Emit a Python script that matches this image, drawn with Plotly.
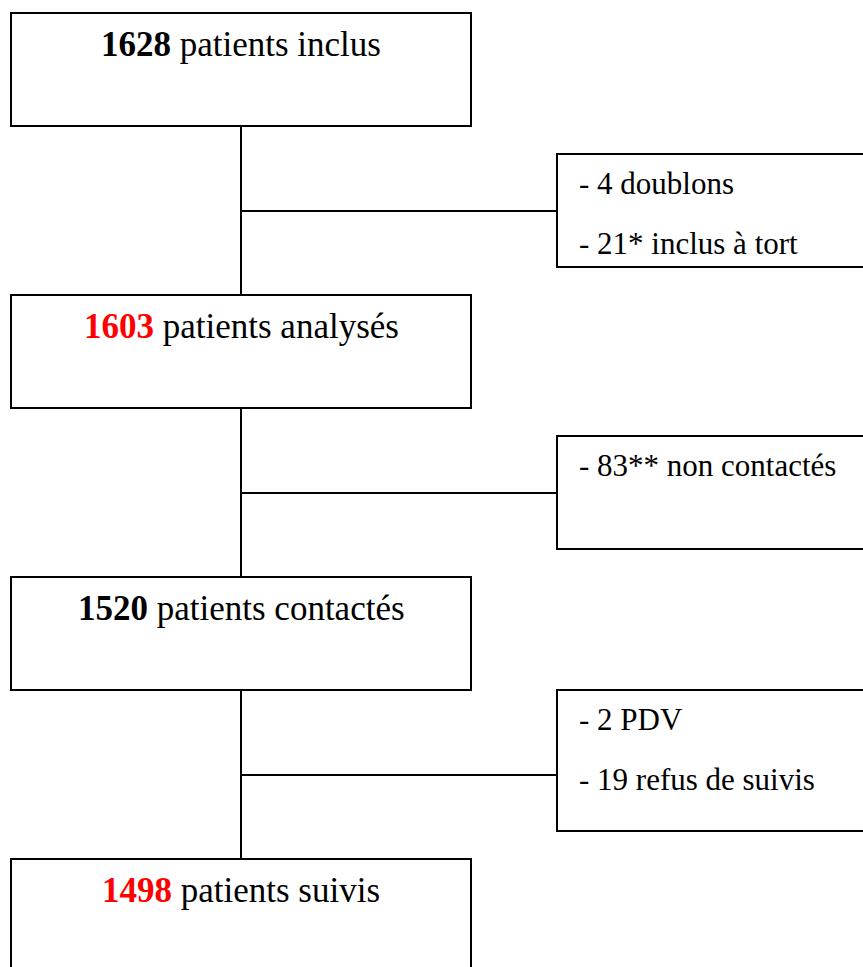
import plotly.graph_objects as go

# ---- data ----
main_counts = ["1628", "1603", "1520", "1498"]
main_labels = ["patients inclus", "patients analysés", "patients contactés", "patients suivis"]
main_count_colors = ["#000000", "#FF0000", "#000000", "#FF0000"]
exclusions = [
    ["- 4 doublons", "- 21* inclus à tort"],
    ["- 83** non contactés"],
    ["- 2 PDV", "- 19 refus de suivis"],
]

# ---- layout constants (pixel geometry) ----
W, H = 863, 967
MX0, MX1 = 11, 471
main_tops = [13, 295, 577, 859]
MAIN_H = 113
SX0, SX1 = 557, 880
side_boxes = [(154, 267), (436, 549), (690, 831)]
line_ys = [211, 493, 775]
CX = 241
FONT = "Liberation Serif"
FS_MAIN = 35
FS_SIDE = 31
LW = 2

fig = go.Figure()
shapes = []
annotations = []

for i, top in enumerate(main_tops):
    shapes.append(dict(type="rect", x0=MX0, x1=MX1, y0=top, y1=top + MAIN_H,
                       line=dict(color="black", width=LW), fillcolor="white"))
    txt = f"<b><span style='color:{main_count_colors[i]}'>{main_counts[i]}</span></b> {main_labels[i]}"
    annotations.append(dict(x=CX, y=top + 31, text=txt, showarrow=False,
                            xanchor="center", yanchor="middle",
                            font=dict(family=FONT, size=FS_MAIN, color="black")))

for i, (t, b) in enumerate(side_boxes):
    shapes.append(dict(type="line", x0=CX, x1=CX, y0=main_tops[i] + MAIN_H, y1=main_tops[i + 1],
                       line=dict(color="black", width=LW)))
    shapes.append(dict(type="line", x0=CX, x1=SX0, y0=line_ys[i], y1=line_ys[i],
                       line=dict(color="black", width=LW)))
    shapes.append(dict(type="rect", x0=SX0, x1=SX1, y0=t, y1=b,
                       line=dict(color="black", width=LW), fillcolor="white"))
    for j, line in enumerate(exclusions[i]):
        annotations.append(dict(x=577, y=t + 29 + 60 * j, text=line, showarrow=False,
                                xanchor="left", yanchor="middle",
                                font=dict(family=FONT, size=FS_SIDE, color="black")))

fig.update_layout(
    width=W, height=H,
    margin=dict(l=0, r=0, t=0, b=0),
    paper_bgcolor="white", plot_bgcolor="white",
    xaxis=dict(range=[0, W], visible=False, fixedrange=True),
    yaxis=dict(range=[H, 0], visible=False, fixedrange=True),
    shapes=shapes, annotations=annotations,
    showlegend=False,
)

fig.write_html(
    "out.html",
    config={"displayModeBar": False},
    post_script="document.body.style.margin='0';document.body.style.overflow='hidden';",
)
